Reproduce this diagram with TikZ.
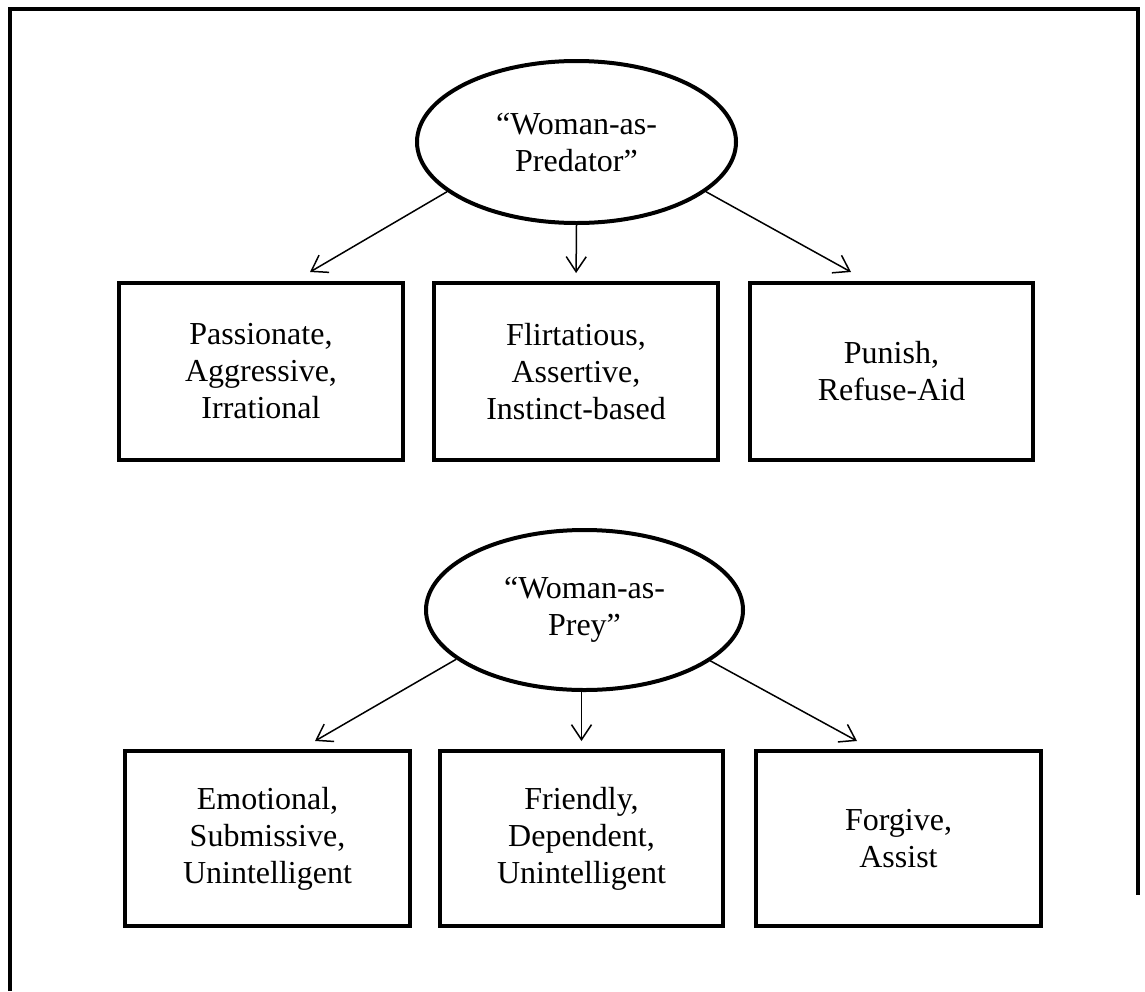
\documentclass[tikz,border=0pt]{standalone}
\usepackage{fontspec}
\setmainfont{Liberation Serif}
\usetikzlibrary{shapes.geometric,arrows.meta,calc}
\tikzset{
  ell/.style={ellipse, draw, line width=4pt, inner sep=0pt, align=center,
    font=\fontsize{32}{37}\selectfont},
  box/.style={rectangle, draw, line width=4pt, inner sep=0pt, align=center,
    minimum width=284pt, minimum height=177pt, font=\fontsize{32}{37}\selectfont},
  arr/.style={line width=1.5pt, -{Straight Barb[length=15pt,width=20pt,line width=1.5pt]}},
  frame/.style={line width=4pt}
}
\begin{document}
\begin{tikzpicture}[x=1pt,y=-1pt]
\useasboundingbox (0,0) rectangle (1145,991);
% outer frame
\coordinate (fa) at (10,991);
\coordinate (fb) at (10,9);
\coordinate (fc) at (1138,9);
\coordinate (fd) at (1138,895);
\draw[frame] (fa) -- (fb) -- (fc) -- (fd);

% top group
\node[ell, minimum width=319pt, minimum height=162pt] (e1) at (576.5,142) {“Woman-as-\\Predator”};
\node[box] (b1) at (261,371.5) {Passionate,\\Aggressive,\\Irrational};
\node[box] (b2) at (576,371.5) {Flirtatious,\\Assertive,\\Instinct-based};
\node[box, minimum width=283pt] (b3) at (891.5,371.5) {Punish,\\Refuse-Aid};
\coordinate (t1) at ($(b1.north)+(49,-9)$);
\coordinate (t3) at ($(b3.north)+(-40.5,-9)$);
\draw[arr] (e1.201.3) -- (t1);
\draw[arr, shorten >=8pt] (e1.south) -- (b2.north);
\draw[arr] (e1.339.1) -- (t3);

% bottom group
\node[ell, minimum width=317pt, minimum height=160pt] (e2) at (584.5,610) {“Woman-as-\\Prey”};
\node[box, minimum width=285pt, minimum height=175pt] (b4) at (267.5,838.5) {Emotional,\\Submissive,\\Unintelligent};
\node[box, minimum width=283pt, minimum height=175pt] (b5) at (581.5,838.5) {Friendly,\\Dependent,\\Unintelligent};
\node[box, minimum width=285pt, minimum height=175pt] (b6) at (898.5,838.5) {Forgive,\\Assist};
\coordinate (t4) at ($(b4.north)+(47.5,-8)$);
\coordinate (t6) at ($(b6.north)+(-41.5,-8)$);
\coordinate (s5) at (b5.north |- e2.south);
\draw[arr] (e2.201.4) -- (t4);
\draw[arr, shorten >=8pt] (s5) -- (b5.north);
\draw[arr] (e2.338.3) -- (t6);
\end{tikzpicture}
\end{document}
